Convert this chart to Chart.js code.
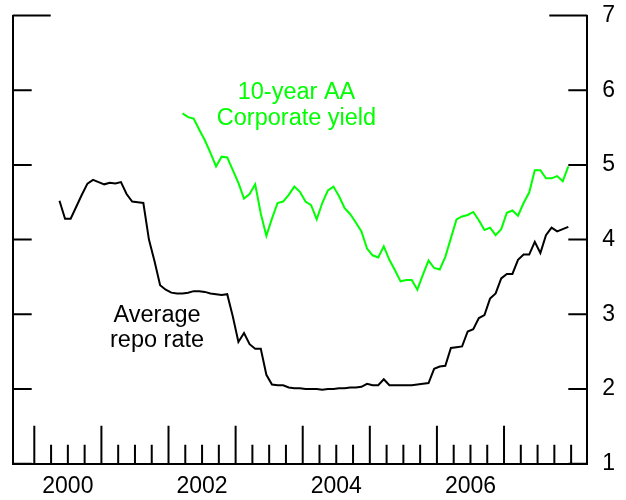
<!DOCTYPE html>
<html>
<head>
<meta charset="utf-8">
<script src="https://cdn.jsdelivr.net/npm/chart.js@4.4.1/dist/chart.umd.min.js"></script>
<style>
  html, body { margin: 0; padding: 0; background: #fff; }
  #wrap { width: 626px; height: 500px; }
</style>
</head>
<body>
<div id="wrap"><canvas id="rateChart" width="626" height="500"></canvas></div>
<script>
// monthly values, first one is the month given in *Start (year, month 1-12)
const repoStart = [2000, 5];
const repoRate = [
  4.52, 4.28, 4.28, 4.44, 4.60, 4.75, 4.80, 4.77,
  4.74, 4.76, 4.75, 4.77, 4.61, 4.51, 4.50, 4.49, 4.00, 3.71, 3.39, 3.33,
  3.29, 3.28, 3.28, 3.29, 3.31, 3.31, 3.30, 3.28, 3.27, 3.26, 3.27, 2.97,
  2.63, 2.75, 2.60, 2.54, 2.54, 2.19, 2.06, 2.05, 2.05, 2.02, 2.01, 2.01,
  2.00, 2.00, 2.00, 1.99, 2.00, 2.00, 2.01, 2.01, 2.02, 2.02, 2.03, 2.07,
  2.05, 2.05, 2.13, 2.05, 2.05, 2.05, 2.05, 2.05, 2.06, 2.07, 2.08, 2.27,
  2.30, 2.31, 2.55, 2.56, 2.57, 2.77, 2.80, 2.95, 2.99, 3.21, 3.28, 3.48,
  3.54, 3.54, 3.73, 3.80, 3.80, 3.97, 3.82, 4.06, 4.16, 4.11, 4.14, 4.17
];

const yieldStart = [2002, 3];
const corpYield = [
  5.69, 5.64, 5.62, 5.47, 5.33, 5.16, 4.98, 5.11, 5.10, 4.93,
  4.76, 4.55, 4.61, 4.74, 4.35, 4.05, 4.28, 4.49, 4.51, 4.60, 4.71, 4.64,
  4.51, 4.46, 4.27, 4.49, 4.66, 4.71, 4.58, 4.42, 4.34, 4.23, 4.11, 3.88,
  3.79, 3.76, 3.91, 3.73, 3.59, 3.44, 3.46, 3.46, 3.33, 3.53, 3.72, 3.62,
  3.60, 3.77, 4.02, 4.27, 4.31, 4.33, 4.37, 4.26, 4.13, 4.16, 4.06, 4.14,
  4.36, 4.39, 4.32, 4.49, 4.63, 4.93, 4.93, 4.82, 4.82, 4.85, 4.78, 4.98
];

const majorYears = [2000, 2001, 2002, 2003, 2004, 2005, 2006, 2007];
const yearLabels = ['2000', '2002', '2004', '2006'];
const yTicks = [1, 2, 3, 4, 5, 6, 7];
const xMin = 1999.678;
const xMax = 2008.241;

// quarter ticks from 2000 to 2008
const quarterTicks = [];
for (let v = 2000; v <= 2008; v += 0.25) quarterTicks.push(v);

function toPoints(start, values) {
  return values.map((v, i) => {
    const m = start[1] - 1 + i;
    return { x: start[0] + (m + 0.5) / 12, y: v };
  });
}

const fontFamily = "'Liberation Sans', Arial, sans-serif";
Chart.defaults.font.family = fontFamily;
Chart.defaults.color = '#000';

// inward tick marks, long ones on whole years and on the top value
const tickMarks = {
  id: 'tickMarks',
  afterDatasetsDraw(chart) {
    const { ctx, chartArea: a, scales: { x, y } } = chart;
    ctx.save();
    ctx.strokeStyle = '#000';
    ctx.lineWidth = 2;
    ctx.beginPath();
    x.ticks.forEach(t => {
      const px = x.getPixelForValue(t.value);
      const len = majorYears.includes(t.value) ? 38 : 19;
      ctx.moveTo(px, a.bottom);
      ctx.lineTo(px, a.bottom - len);
    });
    y.ticks.forEach(t => {
      const py = y.getPixelForValue(t.value);
      const len = t.value === yTicks[yTicks.length - 1] ? 38 : 19;
      ctx.moveTo(a.left, py);
      ctx.lineTo(a.left + len, py);
      ctx.moveTo(a.right, py);
      ctx.lineTo(a.right - len, py);
    });
    ctx.stroke();
    ctx.restore();
  }
};

// series names written next to the lines
const seriesNotes = {
  id: 'seriesNotes',
  afterDatasetsDraw(chart) {
    const { ctx, scales: { x, y } } = chart;
    const notes = [
      { text: '10-year AA', at: [2003.907, 5.876], color: '#00ff00' },
      { text: 'Corporate yield', at: [2003.907, 5.54], color: '#00ff00' },
      { text: 'Average', at: [2001.829, 2.897], color: '#000' },
      { text: 'repo rate', at: [2001.829, 2.562], color: '#000' }
    ];
    ctx.save();
    ctx.font = '23.5px ' + fontFamily;
    ctx.textAlign = 'center';
    ctx.textBaseline = 'alphabetic';
    notes.forEach(n => {
      ctx.fillStyle = n.color;
      ctx.fillText(n.text, x.getPixelForValue(n.at[0]), y.getPixelForValue(n.at[1]));
    });
    ctx.restore();
  }
};

new Chart(document.getElementById('rateChart'), {
  type: 'line',
  data: {
    datasets: [
      {
        label: 'Average repo rate',
        data: toPoints(repoStart, repoRate),
        borderColor: '#000',
        borderWidth: 2,
        pointRadius: 0,
        tension: 0
      },
      {
        label: '10-year AA Corporate yield',
        data: toPoints(yieldStart, corpYield),
        borderColor: '#00ff00',
        borderWidth: 2,
        pointRadius: 0,
        tension: 0
      }
    ]
  },
  options: {
    responsive: false,
    animation: false,
    devicePixelRatio: 1,
    layout: { padding: 0 },
    plugins: { legend: { display: false }, tooltip: { enabled: false } },
    scales: {
      x: {
        type: 'linear',
        min: xMin,
        max: xMax,
        afterBuildTicks: scale => {
          scale.ticks = quarterTicks.map(v => ({ value: v }));
        },
        afterFit: scale => { scale.height = 36.3; },
        grid: { drawOnChartArea: false, drawTicks: false },
        border: { display: true, color: '#000', width: 2 },
        ticks: {
          autoSkip: false,
          maxRotation: 0,
          padding: 9,
          font: { size: 23 },
          callback: v => {
            const label = String(v - 0.5);
            return yearLabels.includes(label) ? label : '';
          }
        }
      },
      y: {
        position: 'right',
        min: 1,
        max: 7,
        afterBuildTicks: scale => {
          scale.ticks = yTicks.map(v => ({ value: v }));
        },
        afterFit: scale => { scale.width = 38.7; },
        // invisible outer ticks only push the labels away from the axis
        grid: { drawOnChartArea: false, drawTicks: true, tickLength: 15, tickColor: 'rgba(0,0,0,0)' },
        border: { display: true, color: '#000', width: 2 },
        ticks: { padding: 0, font: { size: 23, lineHeight: 1.35 } }
      },
      yL: {
        position: 'left',
        min: 1,
        max: 7,
        afterFit: scale => { scale.width = 12.7; },
        grid: { drawOnChartArea: false, drawTicks: false },
        border: { display: true, color: '#000', width: 2 },
        ticks: { display: false }
      }
    }
  },
  plugins: [tickMarks, seriesNotes]
});
</script>
</body>
</html>
